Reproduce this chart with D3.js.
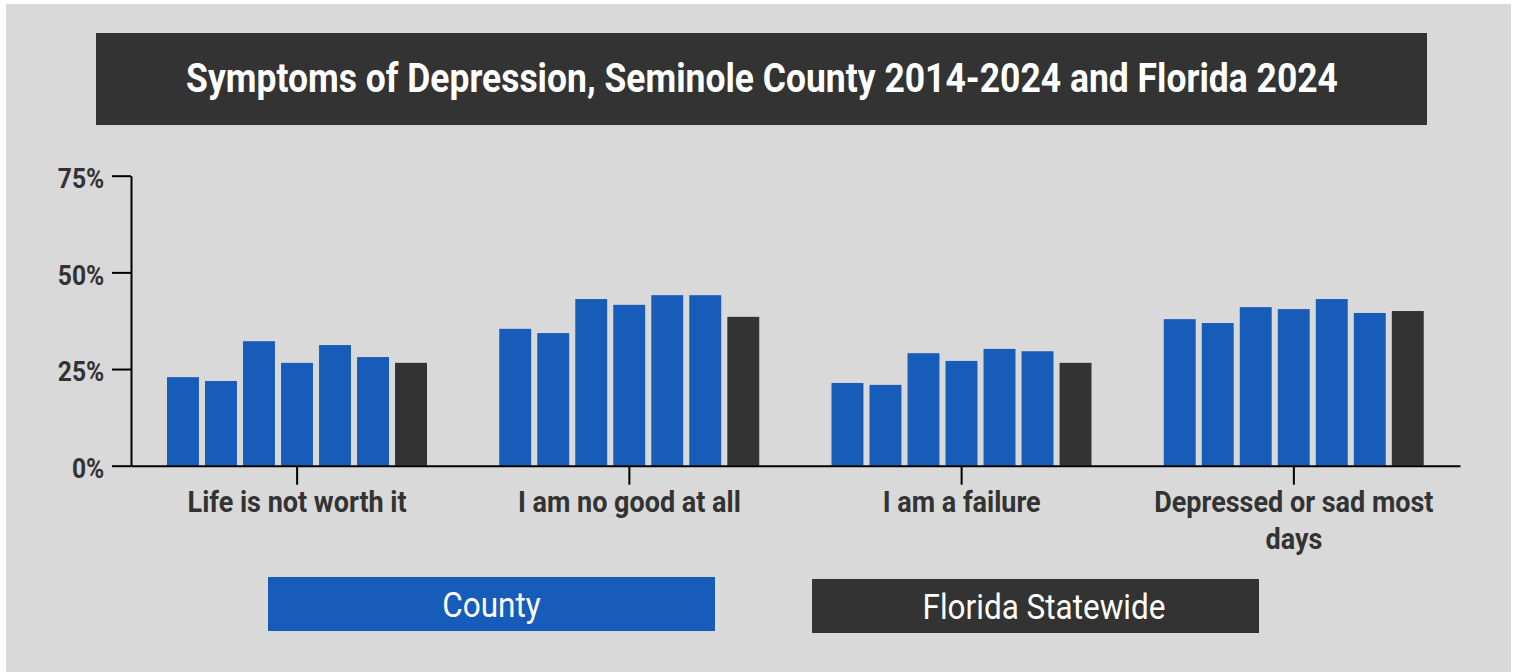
<!DOCTYPE html>
<html>
<head>
<meta charset="utf-8">
<script src="https://cdn.jsdelivr.net/npm/d3@7"></script>
<style>
  body { margin: 0; background: #fff; }
  text { font-family: Roboto, "Noto Sans", sans-serif; }
</style>
</head>
<body>
<div id="plot"></div>
<script>
// symptom categories on the x axis
const categories = ["Life is not worth it", "I am no good at all", "I am a failure", "Depressed or sad most days"];
const seriesNames = ["2014", "2016", "2018", "2020", "2022", "2024", "FL 2024"];

// percent of students
const county2014 = [22.9, 35.4, 21.4, 37.9];
const county2016 = [21.9, 34.3, 20.9, 36.9];
const county2018 = [32.2, 43.1, 29.1, 41.0];
const county2020 = [26.6, 41.6, 27.1, 40.5];
const county2022 = [31.2, 44.1, 30.2, 43.1];
const county2024 = [28.1, 44.1, 29.6, 39.5];
const florida2024 = [26.6, 38.5, 26.6, 40.0];

const yTicks = [0, 25, 50, 75];
const legendLabels = ["County", "Florida Statewide"];

const seriesValues = [county2014, county2016, county2018, county2020, county2022, county2024, florida2024];

const width = 1515, height = 672;
const blue = "#185cba", dark = "#333333";

const svg = d3.select("div#plot")
  .append("svg")
    .attr("width", width)
    .attr("height", height);

// grey panel
svg.append("rect")
  .attr("x", 6).attr("y", 4)
  .attr("width", 1505).attr("height", 668)
  .attr("fill", "#d9d9d9");

// title bar
svg.append("rect")
  .attr("x", 96).attr("y", 33)
  .attr("width", 1331).attr("height", 92)
  .attr("fill", dark);

// no condensed face installed, so squeeze Roboto horizontally
svg.append("g")
  .attr("transform", "translate(762, 92) scale(0.865,1)")
  .append("text")
    .attr("text-anchor", "middle")
    .attr("fill", "#fff")
    .style("font-size", "41px")
    .style("font-weight", "bold")
    .text("Symptoms of Depression, Seminole County 2014-2024 and Florida 2024");

const x0 = d3.scaleBand()
  .domain(categories)
  .range([131, 1460])
  .padding(0);

const x1 = d3.scaleBand()
  .domain(seriesNames)
  .range([36, 296])
  .paddingInner(0.16)
  .paddingOuter(0);

const y = d3.scaleLinear()
  .domain([0, 75])
  .range([465.7, 175.7]);

// bars
const groups = svg.append("g")
  .selectAll("g")
  .data(categories)
  .join("g")
    .attr("transform", d => `translate(${x0(d)},0)`);

groups.selectAll("rect")
  .data((d, i) => seriesNames.map((s, j) => ({ key: s, value: seriesValues[j][i] })))
  .join("rect")
    .attr("x", d => x1(d.key))
    .attr("width", x1.bandwidth())
    .attr("y", d => y(d.value))
    .attr("height", d => y(0) - y(d.value))
    .attr("fill", d => d.key === "FL 2024" ? dark : blue);

// y axis
const yAxis = svg.append("g")
  .attr("transform", "translate(131,0)")
  .call(d3.axisLeft(y).tickValues(yTicks).tickFormat(d => d + "%").tickSize(19).tickSizeOuter(0).tickPadding(10));

// x axis
const xAxis = svg.append("g")
  .attr("transform", `translate(0,${y(0)})`)
  .call(d3.axisBottom(x0).tickSize(19).tickSizeOuter(0));

svg.selectAll(".domain, .tick line")
  .attr("stroke", "#000")
  .attr("stroke-width", 2);

yAxis.selectAll(".tick text")
  .attr("fill", dark)
  .style("font-size", "28px")
  .style("font-weight", "bold")
  .attr("dy", "0.42em")
  .attr("transform", "translate(-10,0) scale(0.88,1) translate(10,0)");

const xSqueeze = 0.9;
xAxis.selectAll(".tick text").remove();
xAxis.selectAll(".tick").each(function(d) {
  const g = d3.select(this).append("g")
    .attr("transform", `translate(0,46) scale(${xSqueeze},1)`);
  const t = g.append("text")
    .attr("text-anchor", "middle")
    .attr("fill", dark)
    .style("font-size", "30px")
    .style("font-weight", "bold");
  // wrap long labels onto a second line
  const words = d.split(" ");
  let line = [], lineNo = 0;
  let tspan = t.append("tspan").attr("x", 0).attr("y", 0);
  words.forEach(w => {
    line.push(w);
    tspan.text(line.join(" "));
    if (tspan.node().getComputedTextLength() * xSqueeze > 300 && line.length > 1) {
      line.pop();
      tspan.text(line.join(" "));
      line = [w];
      lineNo++;
      tspan = t.append("tspan").attr("x", 0).attr("y", lineNo * 37).text(w);
    }
  });
});

// legend
const legend = svg.append("g")
  .selectAll("g")
  .data(legendLabels)
  .join("g")
    .attr("transform", (d, i) => i === 0 ? "translate(268,577)" : "translate(812,579)");

legend.append("rect")
  .attr("width", 447)
  .attr("height", 54)
  .attr("fill", (d, i) => i === 0 ? blue : dark);

legend.append("g")
  .attr("transform", (d, i) => `translate(${i === 0 ? 223.5 : 232},40) scale(0.9,1)`)
  .append("text")
    .attr("text-anchor", "middle")
    .attr("fill", "#fff")
    .style("font-size", "35px")
    .text(d => d);
</script>
</body>
</html>
